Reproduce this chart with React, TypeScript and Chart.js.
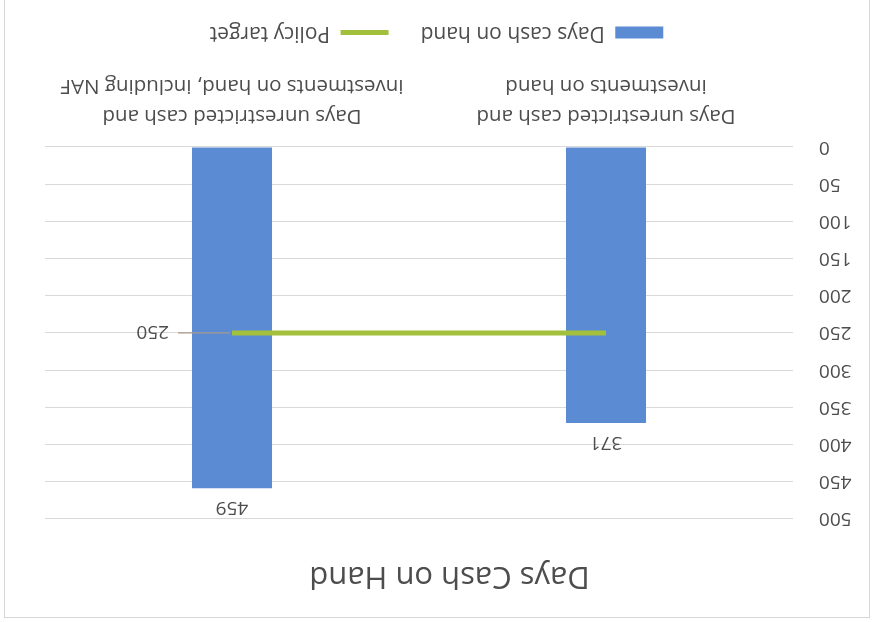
import { useEffect, useRef } from 'react';
import { Chart, registerables } from 'chart.js';

Chart.register(...registerables);

const categories: string[][] = [
  ['Days unrestricted cash and', 'investments on hand'],
  ['Days unrestricted cash and', 'investments on hand, including NAF'],
];
const daysCashOnHand: number[] = [371, 459];
const policyTarget: number[] = [250, 250];
const yMin = 0;
const yMax = 500;
const yStep = 50;
const seriesNames = ['Days cash on hand', 'Policy target'];
const chartTitle = 'Days Cash on Hand';

const FONT = '"Open Sans", "Liberation Sans", sans-serif';
const TEXT = '#4d4d4d';
const BLUE = '#5b8bd2';
const GREEN = '#a2c03c';

const labelPlugin = {
  id: 'valueLabels',
  afterDatasetsDraw(chart: any) {
    const ctx = chart.ctx;
    ctx.save();
    ctx.font = `19px ${FONT}`;
    ctx.fillStyle = TEXT;
    const barMeta = chart.getDatasetMeta(0);
    barMeta.data.forEach((el: any, i: number) => {
      ctx.textAlign = 'center';
      ctx.textBaseline = 'bottom';
      ctx.fillText(String(daysCashOnHand[i]), el.x, el.y - 10);
    });
    const lineMeta = chart.getDatasetMeta(1);
    const last = lineMeta.data[lineMeta.data.length - 1];
    ctx.strokeStyle = '#a8998c';
    ctx.lineWidth = 1.2;
    ctx.beginPath();
    ctx.moveTo(last.x + 2, last.y);
    ctx.lineTo(last.x + 54, last.y);
    ctx.stroke();
    ctx.textAlign = 'left';
    ctx.textBaseline = 'middle';
    ctx.fillText(String(policyTarget[policyTarget.length - 1]), last.x + 63, last.y + 1);
    ctx.restore();
  },
};

const legendShift = {
  id: 'legendShift',
  afterLayout(chart: any) {
    if (chart.legend) {
      chart.legend.left += 13;
      chart.legend.right += 13;
    }
  },
};

export default function App() {
  const ref = useRef<HTMLCanvasElement | null>(null);

  useEffect(() => {
    if (!ref.current) return;
    const chart = new Chart(ref.current, {
      type: 'bar',
      data: {
        labels: categories,
        datasets: [
          {
            type: 'bar',
            label: seriesNames[0],
            data: daysCashOnHand,
            backgroundColor: BLUE,
            borderWidth: 0,
            categoryPercentage: 1,
            barPercentage: 0.214,
            pointStyle: 'rect',
            order: 1,
          } as any,
          {
            type: 'line',
            label: seriesNames[1],
            data: policyTarget,
            borderColor: GREEN,
            backgroundColor: GREEN,
            borderWidth: 5,
            pointRadius: 0,
            pointStyle: 'line',
            order: 0,
          } as any,
        ],
      },
      options: {
        animation: false,
        responsive: false,
        layout: { padding: { left: 15, right: 39, top: 0, bottom: 12 } },
        plugins: {
          title: {
            display: true,
            text: chartTitle,
            font: { family: FONT, size: 31, weight: 'normal' },
            color: TEXT,
            padding: { top: 23, bottom: 38 },
          },
          legend: {
            position: 'bottom',
            labels: {
              usePointStyle: true,
              pointStyleWidth: 48,
              boxHeight: 12,
              padding: 32,
              font: { family: FONT, size: 21 },
              color: TEXT,
              sort: (a: any, b: any) => a.datasetIndex - b.datasetIndex,
            },
          },
          tooltip: { enabled: false },
        },
        scales: {
          x: {
            grid: { display: false, drawTicks: false },
            border: { display: false },
            ticks: {
              padding: 16,
              font: { family: FONT, size: 20.5, lineHeight: 1.46 },
              color: TEXT,
              maxRotation: 0,
              autoSkip: false,
            },
            afterFit: (s: any) => {
              s.height = 72;
            },
          },
          y: {
            min: yMin,
            max: yMax,
            ticks: {
              stepSize: yStep,
              padding: 26,
              font: { family: FONT, size: 19 },
              color: TEXT,
            },
            grid: { color: '#d9d9d9', drawTicks: false },
            border: { display: false },
            afterFit: (s: any) => {
              s.width = 61;
            },
          },
        },
      } as any,
      plugins: [labelPlugin, legendShift],
    });
    return () => chart.destroy();
  }, []);

  return (
    <div
      style={{
        position: 'fixed',
        left: 0,
        top: 0,
        width: 872,
        height: 622,
        overflow: 'hidden',
        background: '#ffffff',
        transform: 'rotate(180deg)',
      }}
    >
      <div
        style={{
          position: 'absolute',
          left: 2,
          top: 4,
          width: 866,
          height: 660,
          border: '1px solid #d6d6d6',
          boxSizing: 'border-box',
        }}
      />
      <div style={{ position: 'absolute', left: 3, top: 5 }}>
        <canvas ref={ref} width={863} height={617} style={{ display: 'block' }} />
      </div>
    </div>
  );
}
